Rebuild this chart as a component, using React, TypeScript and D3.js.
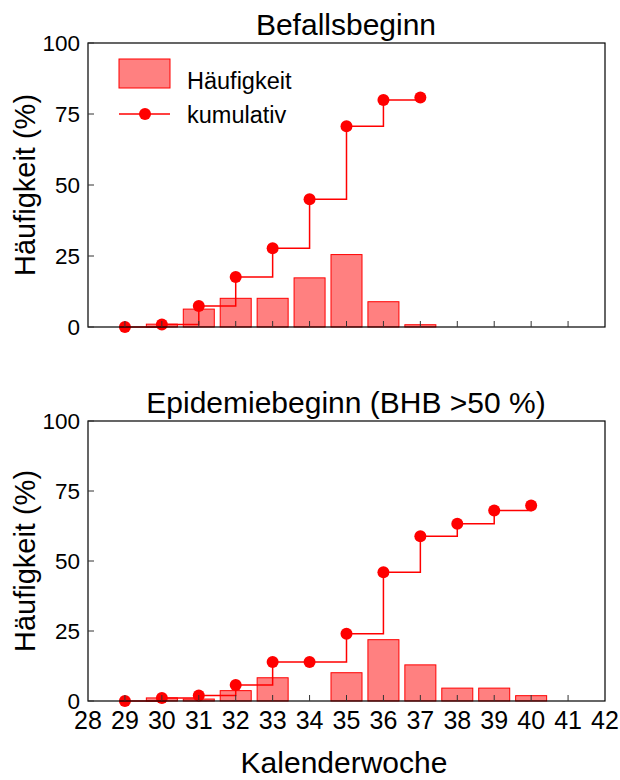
import React from "react";
import * as d3 from "d3";

const weeks = [29, 30, 31, 32, 33, 34, 35, 36, 37, 38, 39, 40, 41];
const befallFreq = [0, 1, 6.3, 10.1, 10.1, 17.3, 25.5, 8.9, 0.8, 0, 0, 0, 0];
const befallCumWeeks = [29, 30, 31, 32, 33, 34, 35, 36, 37];
const befallCum = [0, 0.9, 7.4, 17.6, 27.7, 45, 70.7, 79.9, 80.8];
const epiFreq = [0, 1.1, 0.7, 3.7, 8.3, 0, 10.1, 21.9, 12.9, 4.6, 4.6, 1.9, 0];
const epiCumWeeks = [29, 30, 31, 32, 33, 34, 35, 36, 37, 38, 39, 40];
const epiCum = [0, 1.1, 2, 5.7, 13.9, 13.9, 24, 46, 58.8, 63.3, 68, 69.8];
const xTicks = [28, 29, 30, 31, 32, 33, 34, 35, 36, 37, 38, 39, 40, 41, 42];
const yTicks = [0, 25, 50, 75, 100];

const FONT = "Liberation Sans, Arial, sans-serif";
const RED = "#ff0000";
const FILL = "#ff8080";

const x = d3.scaleLinear().domain([28, 42]).range([88, 605]);

function Panel({ top, bottom, title, freq, cumW, cum, showX, showLegend }: any) {
  const y = d3.scaleLinear().domain([0, 100]).range([bottom, top]);
  const bw = 31;
  const line = d3
    .line<number>()
    .x((_, i) => x(cumW[i]))
    .y((d) => y(d))
    .curve(d3.curveStepAfter);
  const midY = (top + bottom) / 2;
  return (
    <g>
      <text x={346} y={top - 8} textAnchor="middle" fontSize={30} fontFamily={FONT}>
        {title}
      </text>
      <text
        transform={`translate(35,${midY}) rotate(-90)`}
        textAnchor="middle"
        fontSize={29}
        fontFamily={FONT}
      >
        Häufigkeit (%)
      </text>
      {freq.map((v: number, i: number) => (
        <rect
          key={i}
          x={x(weeks[i]) - bw / 2}
          y={y(v)}
          width={bw}
          height={Math.max(0, bottom - y(v))}
          fill={FILL}
          stroke={RED}
          strokeWidth={1}
          strokeOpacity={v === 0 ? 0.5 : 1}
        />
      ))}
      <path d={line(cum) || ""} fill="none" stroke={RED} strokeWidth={1.5} />
      {cum.map((v: number, i: number) => (
        <circle key={i} cx={x(cumW[i])} cy={y(v)} r={6} fill={RED} />
      ))}
      <rect x={88} y={top} width={605 - 88} height={bottom - top} fill="none" stroke="#000" strokeWidth={1.2} />
      {weeks.map((w) => (
        <line key={w} x1={x(w)} x2={x(w)} y1={bottom} y2={bottom - 6} stroke="#333" strokeWidth={1} />
      ))}
      {yTicks.map((t) => (
        <g key={t}>
          <line x1={88} x2={94} y1={y(t)} y2={y(t)} stroke="#333" strokeWidth={1} />
          <text
            x={80}
            y={y(t) + 8}
            textAnchor="end"
            fontSize={22.5}
            fontFamily={FONT}
          >
            {t}
          </text>
        </g>
      ))}
      {showX &&
        xTicks.map((t) => (
          <text key={t} x={x(t)} y={bottom + 28} textAnchor="middle" fontSize={25} fontFamily={FONT}>
            {t}
          </text>
        ))}
      {showLegend && (
        <g>
          <rect x={119} y={59} width={51} height={29} fill={FILL} stroke={RED} strokeWidth={1} />
          <text x={187} y={89} fontSize={23.5} fontFamily={FONT}>
            Häufigkeit
          </text>
          <line x1={119} x2={170} y1={114} y2={114} stroke={RED} strokeWidth={1.5} />
          <circle cx={145} cy={114} r={6} fill={RED} />
          <text x={187} y={123} fontSize={23.5} fontFamily={FONT}>
            kumulativ
          </text>
        </g>
      )}
    </g>
  );
}

export default function App() {
  return (
    <svg
      width={620}
      height={780}
      style={{ position: "absolute", left: 0, top: 0, background: "#fff" }}
    >
      <rect width={620} height={780} fill="#fff" />
      <Panel
        top={43}
        bottom={327}
        title="Befallsbeginn"
        freq={befallFreq}
        cumW={befallCumWeeks}
        cum={befallCum}
        showX={false}
        showLegend={true}
      />
      <Panel
        top={421}
        bottom={701}
        title="Epidemiebeginn (BHB >50 %)"
        freq={epiFreq}
        cumW={epiCumWeeks}
        cum={epiCum}
        showX={true}
        showLegend={false}
      />
      <text x={344} y={773} textAnchor="middle" fontSize={30} fontFamily={FONT}>
        Kalenderwoche
      </text>
    </svg>
  );
}
